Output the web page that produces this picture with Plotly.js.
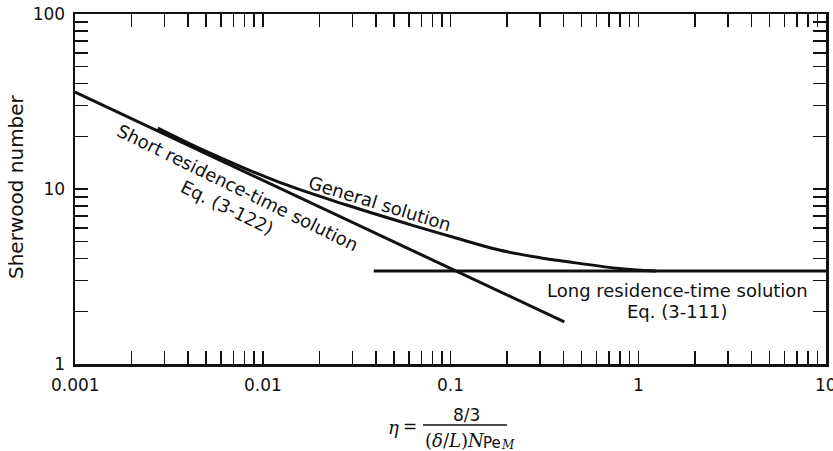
<!DOCTYPE html>
<html><head><meta charset="utf-8">
<script src="https://cdn.plot.ly/plotly-3.0.1.min.js"></script>
<style>html,body{margin:0;padding:0;background:#fff}</style>
</head><body><div id="chart" style="width:833px;height:451px"></div>
<script>
// ---- data ----
const shortX = [0.001, 0.404];
const shortY = [35.8, 1.74];
const generalX = [0.00276, 0.005, 0.0123, 0.028, 0.0628, 0.1026, 0.182, 0.3, 0.414, 0.764, 1.25];
const generalY = [22.3, 16.4, 10.9, 8.1, 6.2, 5.32, 4.48, 4.05, 3.85, 3.53, 3.40];
const longX = [0.039, 10];
const longY = [3.4, 3.4];
const xDecades = [0.001, 0.01, 0.1, 1, 10];
const xDecadeLabels = ["0.001", "0.01", "0.1", "1", "10"];
const yDecades = [1, 10, 100];
const yDecadeLabels = ["1", "10", "100"];

// ---- tick sets (1..9 per decade, labels only on decades) ----
function ticks(decades, labels) {
  const vals = [], text = [];
  decades.forEach((d, i) => {
    const last = i === decades.length - 1;
    for (let m = 1; m <= (last ? 1 : 9); m++) {
      vals.push(Number((d * m).toPrecision(3)));
      text.push(m === 1 ? labels[i] : "");
    }
  });
  return {vals, text};
}
const xt = ticks(xDecades, xDecadeLabels);
const yt = ticks(yDecades, yDecadeLabels);

const INK = '#111';
const L = 75, R = 826, T = 14, B = 364;
const px = x => (x - L) / (R - L);
const py = y => (B - y) / (B - T);

const lineStyle = {color: INK, width: 3};
const traces = [
  {x: shortX, y: shortY, mode: 'lines', line: lineStyle, hoverinfo: 'skip'},
  {x: generalX, y: generalY, mode: 'lines', line: Object.assign({shape: 'spline', smoothing: 1}, lineStyle), hoverinfo: 'skip'},
  {x: longX, y: longY, mode: 'lines', line: lineStyle, hoverinfo: 'skip'}
];

const sans = 'DejaVu Sans, sans-serif';
const serif = 'DejaVu Serif, serif';
function ann(text, x, y, opts) {
  return Object.assign({
    text, xref: 'paper', yref: 'paper', x: px(x), y: py(y),
    xanchor: 'center', yanchor: 'middle', showarrow: false,
    font: {family: sans, size: 18, color: INK}
  }, opts || {});
}

const annotations = [
  ann('Short residence-time solution', 237.5, 187.5, {textangle: 26}),
  ann('Eq. (3-122)', 227.5, 207.5, {textangle: 26}),
  ann('General solution', 380, 203, {textangle: 17}),
  ann('Long residence-time solution', 677, 290),
  ann('Eq. (3-111)', 677, 311),
  ann('Sherwood number', 16, 187, {textangle: -90, font: {family: sans, size: 20, color: INK}}),
  ann('<i>η</i>', 393, 427, {font: {family: serif, size: 18, color: INK}}),
  ann('=', 410, 426, {font: {family: sans, size: 17, color: INK}}),
  ann('8/3', 466, 415, {font: {family: sans, size: 17, color: INK}}),
  ann('(<i>δ</i>/<i>L</i>)<i>N</i>', 423, 440, {xanchor: 'left', font: {family: serif, size: 18, color: INK}}),
  ann('Pe', 481, 443, {xanchor: 'left', font: {family: sans, size: 15, color: INK}}),
  ann('<i>M</i>', 499, 445, {xanchor: 'left', font: {family: serif, size: 12, color: INK}})
];
// x tick labels placed on the x axis scale (log axis → log10 position)
xDecades.forEach((d, i) => {
  annotations.push({
    text: xDecadeLabels[i], xref: 'x', yref: 'paper', x: Math.log10(d), y: py(385),
    xanchor: 'center', yanchor: 'middle', showarrow: false,
    font: {family: sans, size: 17, color: INK}
  });
});

const shapes = [
  {type: 'line', xref: 'paper', yref: 'paper', x0: px(423), x1: px(507), y0: py(425), y1: py(425),
   line: {color: INK, width: 1.3}}
];

const axisCommon = {
  type: 'log', ticks: 'inside', ticklen: 13, tickwidth: 1.5, tickcolor: INK,
  showline: true, linewidth: 2.5, linecolor: INK, mirror: 'ticks',
  showgrid: false, zeroline: false, ticklabeloverflow: 'allow',
  tickfont: {family: sans, size: 17, color: INK}
};

const layout = {
  width: 833, height: 451,
  margin: {l: L, r: 833 - R, t: T, b: 451 - B},
  paper_bgcolor: '#fff', plot_bgcolor: '#fff',
  showlegend: false,
  xaxis: Object.assign({}, axisCommon, {range: [-3, 1], tickmode: 'array', tickvals: xt.vals, ticktext: xt.text, showticklabels: false}),
  yaxis: Object.assign({}, axisCommon, {range: [0, 2], tickmode: 'array', tickvals: yt.vals, ticktext: yt.text, ticklabelstandoff: 4}),
  annotations, shapes
};

Plotly.newPlot('chart', traces, layout, {staticPlot: true, displayModeBar: false});
</script>
</body></html>
